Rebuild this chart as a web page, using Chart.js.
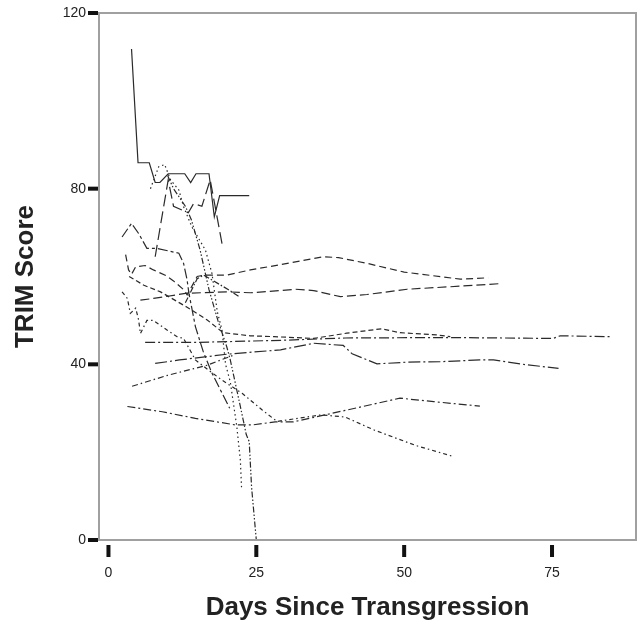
<!DOCTYPE html>
<html>
<head>
<meta charset="utf-8">
<script src="https://cdn.jsdelivr.net/npm/chart.js@4/dist/chart.umd.min.js"></script>
<style>html,body{margin:0;padding:0;background:#fff;}canvas{display:block;}</style>
</head>
<body>
<canvas id="c" width="638" height="628"></canvas>
<script>
// ---- data (days since transgression, TRIM score) ----
const xTickValues = [0, 25, 50, 75];
const yTickValues = [0, 40, 80, 120];

const s01Days = [3.9, 5.0, 6.9, 7.9, 8.7, 10.1, 12.9, 13.9, 14.8, 17.0, 17.9, 18.8, 23.8];
const s01Trim = [111.8, 85.9, 85.9, 81.4, 81.4, 83.4, 83.4, 81.4, 83.4, 83.4, 73.6, 78.4, 78.4];

const s02Days = [7.9, 10.1, 11.0, 13.5, 14.4, 15.8, 17.2, 19.2];
const s02Trim = [64.5, 82.0, 76.0, 74.5, 76.6, 76.0, 82.0, 67.5];

const s03Days = [2.9, 3.4, 3.9, 4.6, 6.2, 7.6, 9.6, 11.0, 12.7, 13.3, 15.0, 16.1, 20.0, 24.0, 29.1, 36.4, 38.9, 43.7, 50.0, 59.5, 64.2];
const s03Trim = [65.0, 61.5, 60.5, 62.2, 62.5, 61.5, 60.3, 59.0, 57.0, 55.8, 60.0, 60.3, 60.3, 61.5, 62.7, 64.5, 64.3, 63.0, 61.0, 59.4, 59.7];

const s04Days = [5.4, 7.6, 13.3, 20.0, 24.0, 29.1, 31.6, 34.7, 39.2, 43.7, 50.5, 59.5, 66.5];
const s04Trim = [54.6, 55.0, 56.2, 56.5, 56.3, 56.8, 57.1, 56.8, 55.4, 55.9, 57.1, 57.8, 58.4];

const s05Days = [6.2, 15.0, 30.0, 40.0, 57.8, 75.2, 76.4, 84.8];
const s05Trim = [45.0, 45.0, 45.5, 46.0, 46.1, 45.9, 46.5, 46.3];

const s06Days = [13.0, 15.0, 16.1, 17.5, 20.3, 22.0];
const s06Trim = [54.0, 59.5, 60.3, 59.2, 57.0, 55.5];

const s07Days = [3.5, 6.0, 8.8, 13.3, 16.7, 19.4, 24.0, 28.0, 34.7, 40.3, 46.2, 49.3, 55.5, 57.8];
const s07Trim = [60.0, 58.0, 56.5, 53.0, 50.1, 47.2, 46.5, 46.3, 45.9, 47.1, 48.1, 47.2, 46.7, 46.3];

const s08Days = [3.2, 9.1, 14.7, 21.5, 24.3, 28.2, 31.3, 40.0, 49.3, 55.0, 62.8];
const s08Trim = [30.4, 29.2, 27.7, 26.2, 26.2, 26.9, 26.9, 29.5, 32.3, 31.5, 30.5];

const s09Days = [4.0, 10.0, 16.7, 19.0, 21.0];
const s09Trim = [35.0, 37.5, 39.8, 41.0, 42.0];

const s10Days = [7.9, 12.0, 20.0, 29.1, 34.7, 39.7, 41.2, 45.4, 50.5, 56.1, 62.8, 65.1, 70.7, 76.1];
const s10Trim = [40.2, 41.0, 42.3, 43.3, 44.8, 44.3, 42.4, 40.1, 40.5, 40.6, 41.0, 41.0, 39.9, 39.1];

const s11Days = [2.3, 3.2, 3.7, 4.6, 5.1, 5.4, 6.5, 7.6, 9.9, 11.6, 12.7, 14.7, 16.9, 19.2, 22.6, 26.0, 28.5, 31.0, 36.0, 40.0, 45.0, 52.0, 58.1];
const s11Trim = [56.5, 55.0, 51.6, 52.8, 50.1, 47.0, 50.0, 50.0, 47.8, 46.3, 45.9, 41.0, 38.7, 36.4, 33.4, 29.6, 27.0, 27.5, 28.5, 28.0, 25.0, 21.5, 19.1];

const s12Days = [7.1, 8.5, 9.5, 10.5, 11.9, 12.7, 14.1, 16.4, 17.5, 18.4, 19.2, 19.8, 20.6, 21.7, 22.3, 22.5];
const s12Trim = [80.0, 85.0, 85.5, 82.0, 79.7, 75.9, 71.3, 66.0, 60.7, 52.0, 47.8, 40.0, 36.0, 25.8, 18.2, 12.0];

const s13Days = [10.0, 11.0, 12.0, 13.0, 14.0, 15.5, 17.0, 18.5, 20.0, 20.6, 22.3, 23.3, 23.8, 24.2, 24.8, 25.0, 26.2];
const s13Trim = [83.0, 80.0, 78.0, 76.0, 73.0, 66.0, 57.0, 50.0, 44.0, 41.0, 30.4, 24.0, 22.4, 12.0, 3.0, 0.0, 0.0];

const s14Days = [2.3, 3.9, 5.1, 6.5, 8.2, 11.9, 12.7, 13.3, 13.6, 14.7, 16.0, 17.5, 19.0, 20.5];
const s14Trim = [69.0, 72.1, 69.8, 66.4, 66.4, 65.3, 63.0, 59.2, 56.2, 48.6, 43.0, 38.0, 34.0, 30.0];

const seriesDays = [s01Days, s02Days, s03Days, s04Days, s05Days, s06Days, s07Days, s08Days, s09Days, s10Days, s11Days, s12Days, s13Days, s14Days];
const seriesTrim = [s01Trim, s02Trim, s03Trim, s04Trim, s05Trim, s06Trim, s07Trim, s08Trim, s09Trim, s10Trim, s11Trim, s12Trim, s13Trim, s14Trim];

// ---- styles ----
const dashStyles = [
  [],              // solid
  [12, 5],         // long dash
  [7, 4],          // dash
  [9, 4],          // dash
  [10, 3, 2, 3],   // dash dot
  [6, 2, 1.5, 2],  // dash dot
  [5, 3],          // dash
  [8, 3, 2, 3],    // dash dot
  [6, 3, 1.5, 3],  // dash dot
  [12, 3, 2, 3],   // long dash dot
  [4, 3, 1.5, 3],  // short dash dot
  [1.5, 3],        // dotted
  [6, 2, 1.5, 2, 1.5, 2], // dash dot dot
  [10, 3, 3, 3]    // long dash dot
];

const datasets = seriesDays.map((d, i) => ({
  data: d.map((x, j) => ({x: x, y: seriesTrim[i][j]})),
  borderColor: '#2a2a2a',
  borderWidth: 1.2,
  borderDash: dashStyles[i],
  pointRadius: 0,
  fill: false,
  tension: 0
}));

const frameAndTicks = {
  id: 'frameAndTicks',
  afterDraw(chart) {
    const {ctx, chartArea: a, scales: {x, y}} = chart;
    ctx.save();
    ctx.strokeStyle = '#a0a0a0';
    ctx.lineWidth = 2;
    ctx.strokeRect(a.left, a.top, a.right - a.left, a.bottom - a.top);
    ctx.fillStyle = '#111';
    yTickValues.forEach(v => {
      const py = y.getPixelForValue(v);
      ctx.fillRect(a.left - 11, py - 2, 10, 4);
    });
    xTickValues.forEach(v => {
      const px = x.getPixelForValue(v);
      ctx.fillRect(px - 2, a.bottom + 5, 4, 12);
    });
    ctx.restore();
  }
};

const FONT = "'Liberation Sans', Arial, sans-serif";

new Chart(document.getElementById('c'), {
  type: 'line',
  data: {datasets},
  options: {
    responsive: false,
    animation: false,
    layout: {padding: {top: 13, right: 2, left: 0, bottom: 0}},
    plugins: {legend: {display: false}, tooltip: {enabled: false}},
    scales: {
      x: {
        type: 'linear',
        min: -1.6,
        max: 89.2,
        afterBuildTicks: s => { s.ticks = xTickValues.map(v => ({value: v})); },
        afterFit: s => { s.height = 88; },
        grid: {display: true, drawOnChartArea: false, drawTicks: true, tickLength: 17, tickColor: 'rgba(0,0,0,0)'},
        border: {display: false},
        ticks: {color: '#222', font: {family: FONT, size: 14}, padding: 8, maxRotation: 0},
        title: {display: true, text: 'Days Since Transgression', color: '#222',
                font: {family: FONT, size: 26, weight: 'bold'}, padding: {top: 0, bottom: 5}}
      },
      y: {
        min: 0,
        max: 120,
        afterBuildTicks: s => { s.ticks = yTickValues.map(v => ({value: v})); },
        afterFit: s => { s.width = 99; },
        grid: {display: true, drawOnChartArea: false, drawTicks: true, tickLength: 10, tickColor: 'rgba(0,0,0,0)'},
        border: {display: false},
        ticks: {color: '#222', font: {family: FONT, size: 14}, padding: 3},
        title: {display: true, text: 'TRIM Score', color: '#222',
                font: {family: FONT, size: 26, weight: 'bold'}, padding: {top: 10, bottom: 0}}
      }
    }
  },
  plugins: [frameAndTicks]
});
</script>
</body>
</html>
